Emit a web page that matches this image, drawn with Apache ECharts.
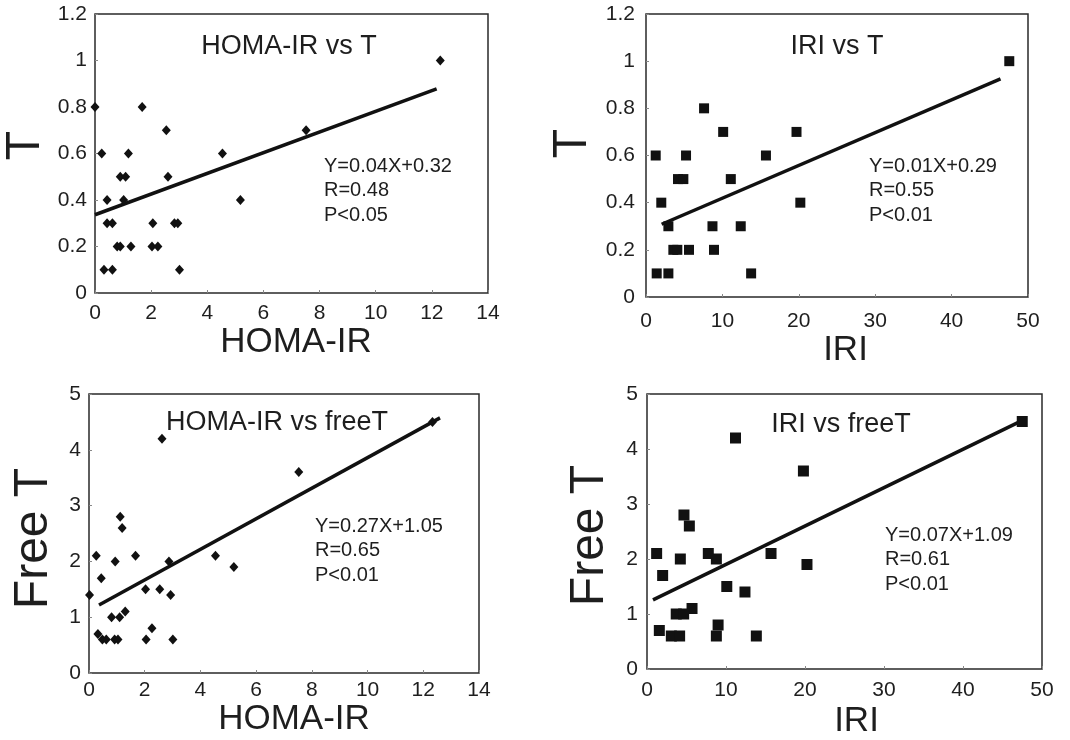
<!DOCTYPE html>
<html>
<head>
<meta charset="utf-8">
<script src="https://cdn.jsdelivr.net/npm/echarts@6/dist/echarts.min.js"></script>
<style>
  html, body { margin: 0; padding: 0; background: #ffffff; }
  #chart { width: 1070px; height: 740px; }
</style>
</head>
<body>
<div id="chart"></div>
<script>
// HOMA-IR vs T
const homaT_x = [0.0, 0.24, 1.68, 2.54, 1.19, 4.54, 7.52, 12.3, 0.9, 1.09, 2.6, 0.43, 1.02, 5.18, 0.43, 0.62, 2.06, 2.83, 2.95, 0.79, 0.9, 1.28, 2.03, 2.24, 0.32, 0.62, 3.01];
const homaT_y = [0.8, 0.6, 0.8, 0.7, 0.6, 0.6, 0.7, 1.0, 0.5, 0.5, 0.5, 0.4, 0.4, 0.4, 0.3, 0.3, 0.3, 0.3, 0.3, 0.2, 0.2, 0.2, 0.2, 0.2, 0.1, 0.1, 0.1];

// IRI vs T
const iriT_x = [1.27, 2.0, 7.6, 10.1, 19.7, 5.24, 15.7, 4.19, 4.89, 11.1, 20.2, 2.93, 8.7, 12.4, 3.58, 4.1, 5.63, 8.9, 1.4, 2.93, 13.76, 47.55];
const iriT_y = [0.6, 0.4, 0.8, 0.7, 0.7, 0.6, 0.6, 0.5, 0.5, 0.5, 0.4, 0.3, 0.3, 0.3, 0.2, 0.2, 0.2, 0.2, 0.1, 0.1, 0.1, 1.0];

// HOMA-IR vs free T
const homaFT_x = [12.33, 2.62, 7.53, 1.12, 1.19, 0.26, 1.67, 4.54, 0.94, 2.87, 5.2, 0.44, 0.02, 2.03, 2.54, 2.93, 1.3, 0.81, 1.1, 2.26, 0.32, 0.48, 0.62, 0.92, 1.04, 2.05, 3.01];
const homaFT_y = [4.5, 4.2, 3.6, 2.8, 2.6, 2.1, 2.1, 2.1, 2.0, 2.0, 1.9, 1.7, 1.4, 1.5, 1.5, 1.4, 1.1, 1.0, 1.0, 0.8, 0.7, 0.6, 0.6, 0.6, 0.6, 0.6, 0.6];

// IRI vs free T
const iriFT_x = [47.5, 11.2, 19.8, 4.68, 5.36, 1.22, 7.76, 15.7, 4.22, 8.78, 20.25, 1.98, 10.1, 12.4, 5.7, 3.7, 4.64, 9.0, 1.56, 3.08, 4.13, 8.78, 13.84];
const iriFT_y = [4.5, 4.2, 3.6, 2.8, 2.6, 2.1, 2.1, 2.1, 2.0, 2.0, 1.9, 1.7, 1.5, 1.4, 1.1, 1.0, 1.0, 0.8, 0.7, 0.6, 0.6, 0.6, 0.6];

// regression lines: slope, intercept and x extent of each drawn fit
const fitSlope = [0.0445, 0.0139, 0.274, 0.0698];
const fitIntercept = [0.3365, 0.28, 1.12, 1.203];
const fitFrom = [0, 2.05, 0.36, 0.76];
const fitTo = [12.17, 46.4, 12.6, 47.4];

// panel texts
const panelTitles = ['HOMA-IR vs T', 'IRI vs T', 'HOMA-IR vs freeT', 'IRI vs freeT'];
const xNames = ['HOMA-IR', 'IRI', 'HOMA-IR', 'IRI'];
const yNames = ['T', 'T', 'Free T', 'Free T'];
const statLines = [
  ['Y=0.04X+0.32', 'R=0.48', 'P<0.05'],
  ['Y=0.01X+0.29', 'R=0.55', 'P<0.01'],
  ['Y=0.27X+1.05', 'R=0.65', 'P<0.01'],
  ['Y=0.07X+1.09', 'R=0.61', 'P<0.01']
];

// axis ranges
const xMax = [14, 50, 14, 50];
const xStep = [2, 10, 2, 10];
const yMax = [1.2, 1.2, 5, 5];
const yStep = [0.2, 0.2, 1, 1];

const FONT = '"Liberation Sans", Arial, sans-serif';
const INK = '#1e1e1e';

// layout of the four plot boxes
const grids = [
  { left: 95, top: 14, width: 393, height: 279 },
  { left: 646, top: 14, width: 382, height: 283 },
  { left: 89, top: 394, width: 390, height: 279 },
  { left: 647, top: 394, width: 395, height: 283 }
];
const xLabelMargin = [10, 14, 7, 11];
const yLabelMargin = [8, 11, 8, 9];
const xNameGap = [26, 25, 25, 35];
const yNameGap = [45, 49, 31, 33];
const xNameShift = [9, 17, 20, 24];
const yNameShift = [16, 24, -10, -8];
const titlePos = [[289, 47], [837, 47], [277, 423], [841, 425]];
const statPos = [[324, 154], [869, 154], [315, 514], [885, 523]];
const markerSymbol = ['diamond', 'rect', 'diamond', 'rect'];
const markerSize = [[9, 10], [10, 10], [9, 10], [11, 11]];

const pointSets = [
  [homaT_x, homaT_y],
  [iriT_x, iriT_y],
  [homaFT_x, homaFT_y],
  [iriFT_x, iriFT_y]
];

const option = {
  animation: false,
  backgroundColor: '#ffffff',
  grid: grids.map(g => Object.assign({
    show: true, borderColor: '#2a2a2a', borderWidth: 1.5, backgroundColor: 'transparent'
  }, g)),
  xAxis: grids.map((g, i) => ({
    type: 'value', gridIndex: i, min: 0, max: xMax[i], interval: xStep[i],
    name: xNames[i], nameLocation: 'middle', nameGap: xNameGap[i],
    nameTextStyle: {
      fontFamily: FONT, fontSize: 35, color: INK,
      padding: xNameShift[i] >= 0 ? [0, 0, 0, xNameShift[i]] : [0, -xNameShift[i], 0, 0]
    },
    axisLine: { show: false },
    axisTick: { show: true, inside: true, length: 3, lineStyle: { color: '#888', width: 1 } },
    axisLabel: { fontFamily: FONT, fontSize: 21, color: INK, margin: xLabelMargin[i] },
    splitLine: { show: false }
  })),
  yAxis: grids.map((g, i) => ({
    type: 'value', gridIndex: i, min: 0, max: yMax[i], interval: yStep[i],
    name: yNames[i], nameLocation: 'middle', nameGap: yNameGap[i],
    nameTextStyle: {
      fontFamily: FONT, fontSize: 48, color: INK,
      padding: yNameShift[i] >= 0 ? [0, 0, 0, yNameShift[i]] : [0, -yNameShift[i], 0, 0]
    },
    axisLine: { show: false },
    axisTick: { show: true, inside: true, length: 3, lineStyle: { color: '#888', width: 1 } },
    axisLabel: { fontFamily: FONT, fontSize: 21, color: INK, margin: yLabelMargin[i] },
    splitLine: { show: false }
  })),
  series: [],
  graphic: []
};

pointSets.forEach((set, i) => {
  const [xs, ys] = set;
  option.series.push({
    type: 'scatter', xAxisIndex: i, yAxisIndex: i,
    symbol: markerSymbol[i], symbolSize: markerSize[i],
    itemStyle: { color: '#111111', opacity: 1 },
    data: xs.map((x, k) => [x, ys[k]]),
    z: 3
  });
  option.series.push({
    type: 'line', xAxisIndex: i, yAxisIndex: i,
    showSymbol: false, symbol: 'none',
    lineStyle: { color: '#111111', width: 3.5 },
    data: [fitFrom[i], fitTo[i]].map(x => [x, fitSlope[i] * x + fitIntercept[i]]),
    z: 2
  });
  option.graphic.push({
    type: 'text',
    x: titlePos[i][0], y: titlePos[i][1],
    style: {
      text: panelTitles[i], font: '27px ' + FONT, fill: INK,
      textAlign: 'center', textVerticalAlign: 'middle'
    }
  });
  option.graphic.push({
    type: 'text',
    x: statPos[i][0], y: statPos[i][1],
    style: {
      text: statLines[i].join('\n'), font: '20px ' + FONT, fill: INK,
      lineHeight: 24.5, textAlign: 'left', textVerticalAlign: 'top'
    }
  });
});

const chart = echarts.init(document.getElementById('chart'), null, { renderer: 'canvas' });
chart.setOption(option);
</script>
</body>
</html>
